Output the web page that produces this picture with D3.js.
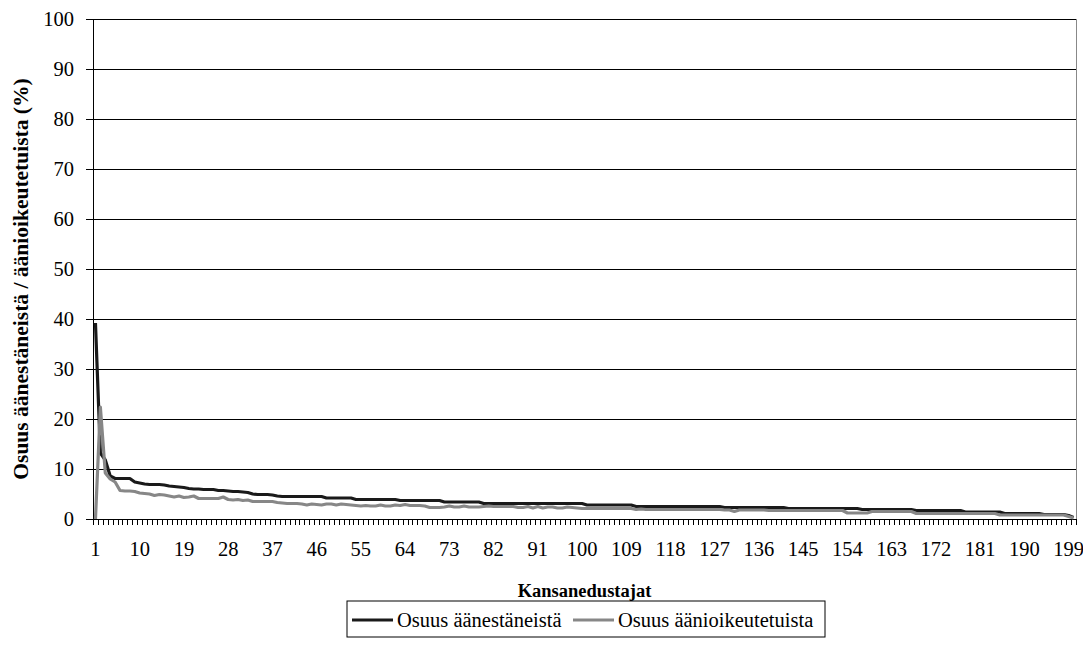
<!DOCTYPE html>
<html>
<head>
<meta charset="utf-8">
<script src="https://cdn.jsdelivr.net/npm/d3@7"></script>
<style>
  body { margin: 0; background: #fff; }
</style>
</head>
<body>
<div id="chart"></div>
<script>
// categories: kansanedustajat 1..200
const edustajat = d3.range(1, 201);
// x tick labels shown (every 9th)
const xLabels = [1, 10, 19, 28, 37, 46, 55, 64, 73, 82, 91, 100, 109, 118, 127, 136, 145, 154, 163, 172, 181, 190, 199];
const yTicks = [0, 10, 20, 30, 40, 50, 60, 70, 80, 90, 100];

// Osuus äänestäneistä (%)
const osuusAanestaneista = [
  39.2, 13.2, 11.8, 8.6, 8.1, 8.1, 8.1, 8.1, 7.4, 7.2,
  7.0, 6.9, 6.9, 6.9, 6.8, 6.6, 6.5, 6.4, 6.3, 6.1,
  6.0, 6.0, 5.9, 5.9, 5.9, 5.7, 5.7, 5.6, 5.5, 5.5,
  5.4, 5.3, 5.0, 4.9, 4.9, 4.9, 4.8, 4.6, 4.5, 4.5,
  4.5, 4.5, 4.5, 4.5, 4.5, 4.5, 4.5, 4.2, 4.2, 4.2,
  4.2, 4.2, 4.2, 3.9, 3.9, 3.9, 3.9, 3.9, 3.9, 3.9,
  3.9, 3.9, 3.7, 3.7, 3.7, 3.7, 3.7, 3.7, 3.7, 3.7,
  3.7, 3.4, 3.4, 3.4, 3.4, 3.4, 3.4, 3.4, 3.4, 3.1,
  3.1, 3.1, 3.1, 3.1, 3.1, 3.1, 3.1, 3.1, 3.1, 3.1,
  3.1, 3.1, 3.1, 3.1, 3.1, 3.1, 3.1, 3.1, 3.1, 3.1,
  2.8, 2.8, 2.8, 2.8, 2.8, 2.8, 2.8, 2.8, 2.8, 2.8,
  2.5, 2.5, 2.5, 2.5, 2.5, 2.5, 2.5, 2.5, 2.5, 2.5,
  2.5, 2.5, 2.5, 2.5, 2.5, 2.5, 2.5, 2.5, 2.3, 2.3,
  2.3, 2.3, 2.3, 2.3, 2.3, 2.3, 2.3, 2.3, 2.3, 2.3,
  2.3, 2.1, 2.1, 2.1, 2.1, 2.1, 2.1, 2.1, 2.1, 2.1,
  2.1, 2.1, 2.1, 2.1, 2.1, 2.1, 1.9, 1.9, 1.9, 1.9,
  1.9, 1.9, 1.9, 1.9, 1.9, 1.9, 1.9, 1.7, 1.7, 1.7,
  1.7, 1.7, 1.7, 1.7, 1.7, 1.7, 1.7, 1.4, 1.4, 1.4,
  1.4, 1.4, 1.4, 1.4, 1.4, 1.1, 1.1, 1.1, 1.1, 1.1,
  1.1, 1.1, 1.1, 0.9, 0.9, 0.9, 0.9, 0.9, 0.7, 0.3
];

// Osuus äänioikeutetuista (%)
const osuusAanioikeutetuista = [
  0.0, 22.4, 9.2, 8.0, 7.4, 5.7, 5.6, 5.6, 5.5, 5.2,
  5.1, 5.0, 4.7, 4.9, 4.8, 4.6, 4.4, 4.6, 4.3, 4.4,
  4.6, 4.1, 4.1, 4.1, 4.1, 4.1, 4.4, 3.9, 3.8, 3.9,
  3.7, 3.8, 3.5, 3.5, 3.5, 3.5, 3.5, 3.3, 3.2, 3.1,
  3.1, 3.1, 3.0, 2.8, 3.0, 2.9, 2.8, 3.0, 3.0, 2.8,
  3.0, 2.9, 2.8, 2.7, 2.6, 2.7, 2.6, 2.6, 2.8, 2.6,
  2.6, 2.8, 2.7, 2.9, 2.7, 2.7, 2.7, 2.6, 2.3, 2.3,
  2.3, 2.4, 2.6, 2.4, 2.4, 2.6, 2.4, 2.4, 2.4, 2.5,
  2.6, 2.5, 2.5, 2.5, 2.5, 2.5, 2.3, 2.3, 2.5, 2.2,
  2.5, 2.2, 2.4, 2.4, 2.2, 2.2, 2.4, 2.3, 2.2, 2.1,
  2.1, 2.1, 2.1, 2.1, 2.1, 2.1, 2.1, 2.1, 2.1, 2.1,
  1.9, 2.0, 1.9, 1.9, 1.9, 1.9, 1.9, 1.9, 1.9, 1.9,
  1.9, 1.9, 1.9, 1.9, 1.9, 1.9, 1.9, 1.9, 1.8, 1.8,
  1.5, 1.8, 1.8, 1.8, 1.8, 1.8, 1.8, 1.7, 1.7, 1.7,
  1.7, 1.7, 1.7, 1.7, 1.7, 1.7, 1.7, 1.7, 1.7, 1.7,
  1.7, 1.7, 1.7, 1.2, 1.2, 1.2, 1.2, 1.2, 1.5, 1.5,
  1.5, 1.5, 1.5, 1.5, 1.5, 1.5, 1.5, 1.1, 1.1, 1.1,
  1.1, 1.1, 1.1, 1.1, 1.1, 1.1, 1.1, 1.1, 1.1, 1.1,
  1.1, 1.1, 1.1, 1.1, 0.8, 0.8, 0.8, 0.8, 0.8, 0.8,
  0.8, 0.8, 0.8, 0.8, 0.8, 0.8, 0.8, 0.8, 0.5, 0.2
];

const seriesNames = ["Osuus äänestäneistä", "Osuus äänioikeutetuista"];
const seriesColors = ["#1a1a1a", "#878787"];
const serif = "'Liberation Serif'";

const width = 1083, height = 662;
const margin = {top: 19, right: 7, bottom: 143, left: 93};
const plotW = width - margin.left - margin.right,
      plotH = height - margin.top - margin.bottom;

let svg = d3.select("#chart")
            .append("svg")
            .attr("width", width)
            .attr("height", height)
            .attr("font-family", serif);

let g = svg.append("g")
           .attr("transform", `translate(${margin.left},${margin.top})`);

//scales
let x = d3.scaleBand().domain(edustajat).range([0, plotW]).padding(0);
let y = d3.scaleLinear().domain([0, 100]).range([plotH, 0]);

//grid lines
g.append("g")
 .selectAll("line")
 .data(yTicks.filter(d => d > 0))
 .enter()
 .append("line")
 .attr("x1", 0).attr("x2", plotW)
 .attr("y1", d => y(d)).attr("y2", d => y(d))
 .style("stroke", "#000")
 .style("stroke-width", 1)
 .attr("shape-rendering", "crispEdges");

//right border of plot area
g.append("line")
 .attr("x1", plotW).attr("x2", plotW)
 .attr("y1", 0).attr("y2", plotH)
 .style("stroke", "#888")
 .attr("shape-rendering", "crispEdges");

//y axis
let yAxis = g.append("g")
             .call(d3.axisLeft(y).tickValues(yTicks).tickSize(7).tickPadding(12))
             .attr("font-family", serif)
             .attr("font-size", 20.5);
yAxis.select(".domain").style("stroke", "#000").attr("shape-rendering", "crispEdges");
yAxis.selectAll(".tick line").attr("shape-rendering", "crispEdges");
yAxis.selectAll("text").attr("font-family", serif).style("fill", "#000");

//x axis: ticks at category boundaries, labels every 9th
let xAxis = g.append("g").attr("transform", `translate(0,${plotH})`);
xAxis.append("line")
     .attr("x1", 0).attr("x2", plotW)
     .style("stroke", "#000")
     .attr("shape-rendering", "crispEdges");
xAxis.selectAll(".xtick")
     .data(d3.range(0, edustajat.length + 1))
     .enter()
     .append("line")
     .attr("class", "xtick")
     .attr("x1", i => Math.round(i * x.bandwidth()) + 0.5)
     .attr("x2", i => Math.round(i * x.bandwidth()) + 0.5)
     .attr("y1", 0).attr("y2", 6)
     .style("stroke", "#000");
xAxis.selectAll(".xlabel")
     .data(xLabels)
     .enter()
     .append("text")
     .attr("class", "xlabel")
     .attr("x", d => x(d) + x.bandwidth() / 2)
     .attr("y", 37)
     .attr("text-anchor", "middle")
     .attr("font-family", serif)
     .attr("font-size", 20.5)
     .text(d => d);

//lines
let line = d3.line()
             .x((d, i) => x(edustajat[i]) + x.bandwidth() / 2)
             .y(d => y(d));

[osuusAanestaneista, osuusAanioikeutetuista].forEach(function(vals, k) {
  g.append("path")
   .datum(vals)
   .attr("d", line)
   .style("fill", "none")
   .style("stroke", seriesColors[k])
   .style("stroke-width", 3.2)
   .style("stroke-linejoin", "round");
});

//axis titles
svg.append("text")
   .attr("x", margin.left + plotW / 2)
   .attr("y", 597)
   .attr("text-anchor", "middle")
   .attr("font-family", serif)
   .attr("font-size", 18.5)
   .attr("font-weight", "bold")
   .text("Kansanedustajat");

svg.append("text")
   .attr("transform", "translate(28,279) rotate(-90)")
   .attr("text-anchor", "middle")
   .attr("font-family", serif)
   .attr("font-size", 21.5)
   .attr("font-weight", "bold")
   .text("Osuus äänestäneistä / äänioikeutetuista (%)");

//legend
let legend = svg.append("g").attr("transform", "translate(347,601)");
legend.append("rect")
      .attr("width", 478).attr("height", 36)
      .style("fill", "#fff")
      .style("stroke", "#000");
let itemX = [5, 226];
seriesNames.forEach(function(name, k) {
  legend.append("line")
        .attr("x1", itemX[k]).attr("x2", itemX[k] + 41)
        .attr("y1", 19).attr("y2", 19)
        .style("stroke", seriesColors[k])
        .style("stroke-width", 3.2);
  legend.append("text")
        .attr("x", itemX[k] + 45)
        .attr("y", 26)
        .attr("font-family", serif)
        .attr("font-size", 20.5)
        .text(name);
});
</script>
</body>
</html>
